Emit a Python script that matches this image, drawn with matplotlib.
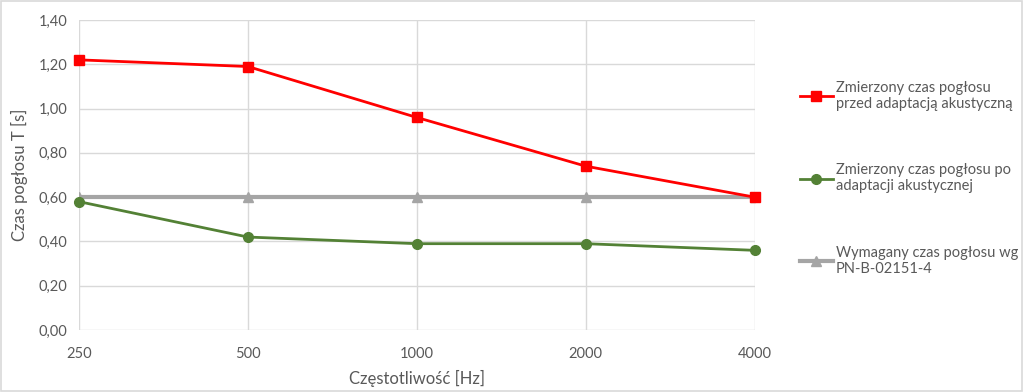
import matplotlib.pyplot as plt
from matplotlib import ticker
from matplotlib.patches import Rectangle

plt.rcParams['font.family'] = ['Lato', 'DejaVu Sans']

freqs = ['250', '500', '1000', '2000', '4000']
before = [1.22, 1.19, 0.96, 0.74, 0.60]
after = [0.58, 0.42, 0.39, 0.39, 0.36]
required = [0.60, 0.60, 0.60, 0.60, 0.60]

labels = ['Zmierzony czas pogłosu\nprzed adaptacją akustyczną',
          'Zmierzony czas pogłosu po\nadaptacji akustycznej',
          'Wymagany czas pogłosu wg\nPN-B-02151-4']

text_col = '#595959'
grid_col = '#d9d9d9'

fig = plt.figure(figsize=(10.24, 3.92), dpi=100)
ax = fig.add_axes([0.077, 0.158, 0.66, 0.791])

x = list(range(len(freqs)))
ax.plot(x, required, color='#a5a5a5', lw=3, marker='^', ms=7, label=labels[2], zorder=2)
ax.plot(x, before, color='#ff0000', lw=2, marker='s', ms=7, label=labels[0], zorder=3, clip_on=False)
ax.plot(x, after, color='#538135', lw=2, marker='o', ms=7, label=labels[1], zorder=3, clip_on=False)

ax.set_xlim(0, 4)
ax.set_ylim(0, 1.4)
ax.set_xticks(x)
ax.set_xticklabels(freqs)
ax.yaxis.set_major_locator(ticker.MultipleLocator(0.2))
ax.yaxis.set_major_formatter(ticker.FuncFormatter(lambda v, p: '{:.2f}'.format(v).replace('.', ',')))
ax.grid(True, color=grid_col, lw=1)
ax.set_axisbelow(True)
for s in ax.spines.values():
    s.set_visible(False)
ax.tick_params(length=0, colors=text_col, labelsize=10.5, pad=8)
ax.tick_params(axis='x', pad=12)
ax.set_xlabel('Częstotliwość [Hz]', color=text_col, fontsize=12, labelpad=7)
ax.set_ylabel('Czas pogłosu T [s]', color=text_col, fontsize=12, labelpad=8)

h, l = ax.get_legend_handles_labels()
order = [1, 2, 0]
leg = fig.legend([h[i] for i in order], [l[i] for i in order],
                 loc='upper left', bbox_to_anchor=(0.768, 0.828), frameon=False,
                 fontsize=10.5, labelspacing=3.6, handlelength=2.3, handletextpad=0.2,
                 labelcolor=text_col)

fig.patches.append(Rectangle((0.001, 0.002), 0.997, 0.995, transform=fig.transFigure,
                             fill=False, edgecolor='#d9d9d9', lw=1.2))

fig.savefig('out.png', dpi=100)
